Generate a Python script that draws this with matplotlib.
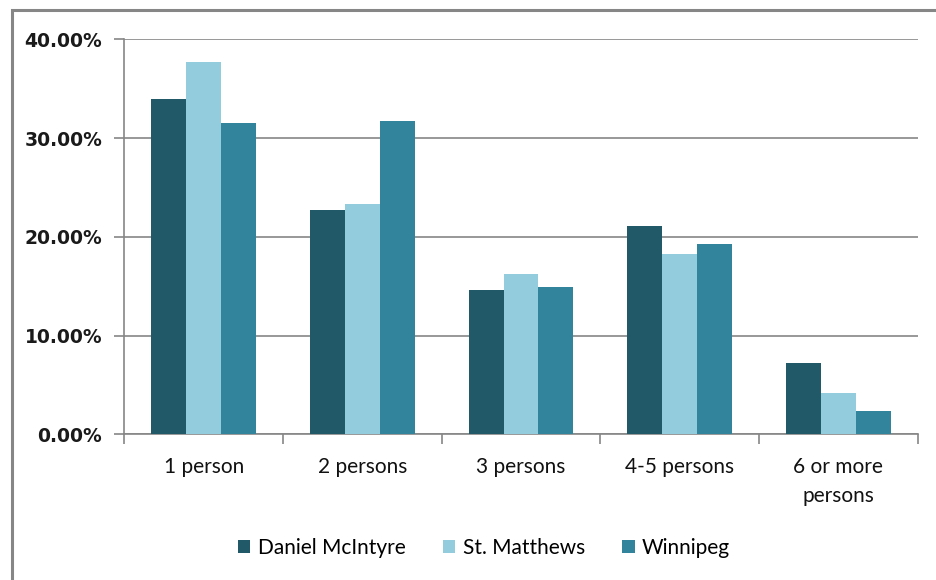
import matplotlib
matplotlib.use("Agg")
import matplotlib.pyplot as plt
from matplotlib.patches import Rectangle
from matplotlib.ticker import FuncFormatter
import numpy as np

# household size shares (percent)
categories = ["1 person", "2 persons", "3 persons", "4-5 persons", "6 or more\npersons"]
daniel_mcintyre = [34.0, 22.7, 14.6, 21.1, 7.2]
st_matthews = [37.7, 23.3, 16.2, 18.3, 4.2]
winnipeg = [31.5, 31.7, 14.9, 19.3, 2.4]

series = [("Daniel McIntyre", daniel_mcintyre, "#215968"),
          ("St. Matthews", st_matthews, "#93CDDD"),
          ("Winnipeg", winnipeg, "#31849B")]

grid_col = "#868686"

fig = plt.figure(figsize=(9.37, 5.8), dpi=100)
ax = fig.add_axes([0.1327, 0.2512, 0.8467, 0.681])

# outer chart frame
fig.patches.append(Rectangle((12 / 937, -0.1), 1.2, 1.1 - 10 / 580,
                             transform=fig.transFigure, fill=False,
                             edgecolor=grid_col, linewidth=2.2))

x = np.arange(len(categories))
w = 0.22
for i, (name, vals, col) in enumerate(series):
    ax.bar(x + (i - 1) * w, vals, w, color=col, label=name, zorder=3)

ax.set_xlim(-0.5, len(categories) - 0.5)
ax.set_ylim(0, 40)
ax.set_yticks([0, 10, 20, 30, 40])
ax.yaxis.set_major_formatter(FuncFormatter(lambda v, p: "%.2f%%" % v))
ax.grid(axis="y", color=grid_col, linewidth=1.2, zorder=0)

# category boundaries carry the x ticks
ax.set_xticks(np.arange(-0.5, len(categories), 1.0))
ax.set_xticklabels([])
ax.set_xticks(x, minor=True)
ax.set_xticklabels(categories, minor=True, fontsize=15, family="Lato",
                   color="#111111", linespacing=1.6)
ax.tick_params(axis="x", which="minor", length=0, pad=16)
ax.tick_params(axis="x", which="major", length=7, color=grid_col, width=1.2)
ax.tick_params(axis="y", length=7, color=grid_col, width=1.2, pad=9,
               labelsize=13.5)
for lab in ax.get_yticklabels():
    lab.set_fontweight("bold")
    lab.set_color("#1a1a1a")

for s in ["top", "right"]:
    ax.spines[s].set_visible(False)
for s in ["left", "bottom"]:
    ax.spines[s].set_color(grid_col)
    ax.spines[s].set_linewidth(1.2)

ax.legend(loc="center", bbox_to_anchor=(484 / 937, 1 - 548 / 580),
          bbox_transform=fig.transFigure, ncol=3, frameon=False,
          prop={"family": "Lato", "size": 15}, handlelength=0.6,
          handleheight=0.6, handletextpad=0.35, columnspacing=1.8)

fig.savefig("out.png", dpi=100)
